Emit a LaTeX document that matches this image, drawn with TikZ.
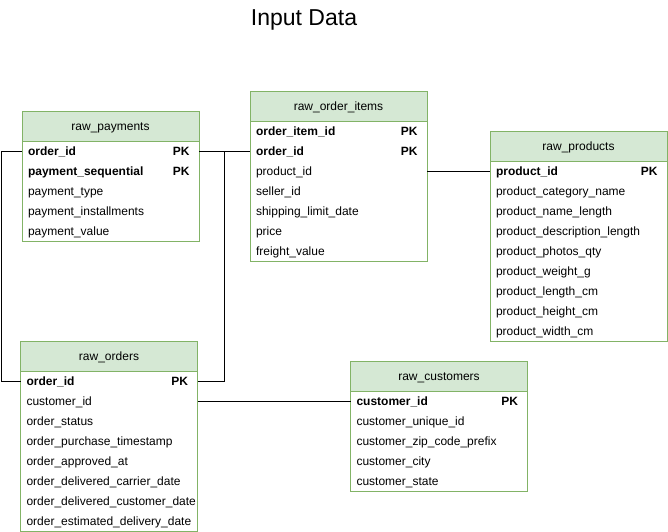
\documentclass[tikz,border=0pt]{standalone}
\usepackage{fontspec}
\setmainfont{Liberation Sans}
\definecolor{tgreen}{HTML}{82B366}
\definecolor{tfill}{HTML}{D5E8D4}
\newcommand{\tfont}{\fontsize{12}{14}\selectfont}
\begin{document}
\begin{tikzpicture}[x=1pt,y=-1pt,line width=1pt,
  tablehead/.style={draw=tgreen, fill=tfill, minimum width=177pt, minimum height=30pt,
    anchor=north west, inner sep=0pt, outer sep=0pt, text height=10pt, text depth=2pt,
    font=\tfont},
  field/.style={minimum width=177pt, minimum height=20pt, anchor=north west,
    inner xsep=6pt, inner ysep=0pt, outer sep=0pt, text width=165pt, align=left,
    text height=10pt, text depth=2pt, font=\tfont},
  keyfield/.style={field, font=\tfont\bfseries,
    label={[font=\tfont\bfseries, anchor=east, inner sep=0pt, outer sep=0pt,
      text height=10pt, text depth=2pt, xshift=-9.5pt]east:PK}},
  outline/.style={draw=tgreen},
  link/.style={draw=black}]
\useasboundingbox (0,0) rectangle (668,531);

% title
\node[font=\fontsize{23}{26}\selectfont, anchor=base] (title) at (304,25) {Input Data};

% raw_payments
\node[tablehead] (pay) at (22,111) {raw\_payments};
\node[keyfield] (p1) at (pay.south west) {order\_id};
\node[keyfield] (p2) at (p1.south west) {payment\_sequential};
\node[field] (p3) at (p2.south west) {payment\_type};
\node[field] (p4) at (p3.south west) {payment\_installments};
\node[field] (p5) at (p4.south west) {payment\_value};
\draw[outline] (pay.north west) rectangle (p5.south east);

% raw_order_items
\node[tablehead] (items) at (250,91) {raw\_order\_items};
\node[keyfield] (i1) at (items.south west) {order\_item\_id};
\node[keyfield] (i2) at (i1.south west) {order\_id};
\node[field] (i3) at (i2.south west) {product\_id};
\node[field] (i4) at (i3.south west) {seller\_id};
\node[field] (i5) at (i4.south west) {shipping\_limit\_date};
\node[field] (i6) at (i5.south west) {price};
\node[field] (i7) at (i6.south west) {freight\_value};
\draw[outline] (items.north west) rectangle (i7.south east);

% raw_products
\node[tablehead] (prod) at (490,131) {raw\_products};
\node[keyfield] (r1) at (prod.south west) {product\_id};
\node[field] (r2) at (r1.south west) {product\_category\_name};
\node[field] (r3) at (r2.south west) {product\_name\_length};
\node[field] (r4) at (r3.south west) {product\_description\_length};
\node[field] (r5) at (r4.south west) {product\_photos\_qty};
\node[field] (r6) at (r5.south west) {product\_weight\_g};
\node[field] (r7) at (r6.south west) {product\_length\_cm};
\node[field] (r8) at (r7.south west) {product\_height\_cm};
\node[field] (r9) at (r8.south west) {product\_width\_cm};
\draw[outline] (prod.north west) rectangle (r9.south east);

% raw_orders
\node[tablehead] (ord) at (20.5,341) {raw\_orders};
\node[keyfield] (o1) at (ord.south west) {order\_id};
\node[field] (o2) at (o1.south west) {customer\_id};
\node[field] (o3) at (o2.south west) {order\_status};
\node[field] (o4) at (o3.south west) {order\_purchase\_timestamp};
\node[field] (o5) at (o4.south west) {order\_approved\_at};
\node[field] (o6) at (o5.south west) {order\_delivered\_carrier\_date};
\node[field] (o7) at (o6.south west) {order\_delivered\_customer\_date};
\node[field] (o8) at (o7.south west) {order\_estimated\_delivery\_date};
\draw[outline] (ord.north west) rectangle (o8.south east);

% raw_customers
\node[tablehead] (cust) at (350.5,361) {raw\_customers};
\node[keyfield] (c1) at (cust.south west) {customer\_id};
\node[field] (c2) at (c1.south west) {customer\_unique\_id};
\node[field] (c3) at (c2.south west) {customer\_zip\_code\_prefix};
\node[field] (c4) at (c3.south west) {customer\_city};
\node[field] (c5) at (c4.south west) {customer\_state};
\draw[outline] (cust.north west) rectangle (c5.south east);

% relationships
\draw[link] (p1.west) -- ++(-21,0) |- (o1.west);
\draw[link] (p1.east) -- (i2.west);
\draw[link] (o1.east) -- ++(26.5,0) |- (i2.west);
\draw[link] (i3.east) -- (r1.west);
\draw[link] (o2.east) -- (c1.west);
\end{tikzpicture}
\end{document}
